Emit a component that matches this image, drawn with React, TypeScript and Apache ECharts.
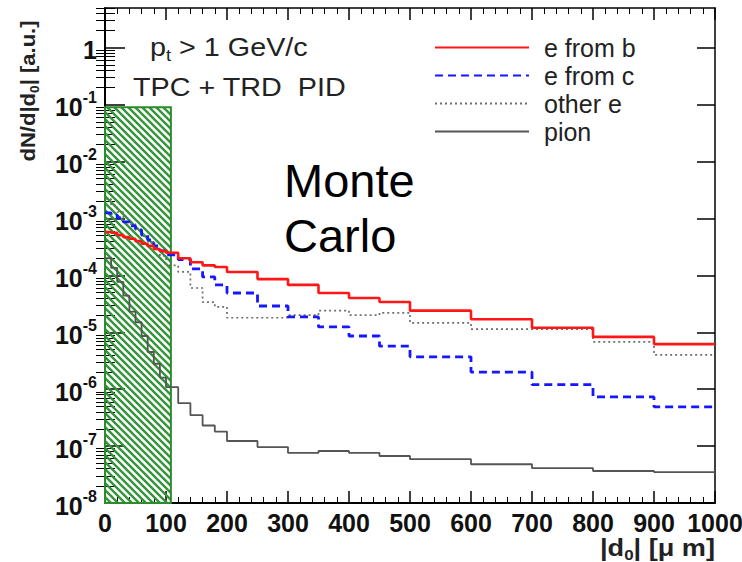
import React, { useEffect, useRef } from "react";
import * as echarts from "echarts";

// Bin edges of |d0| in micrometres
const EDGES = [0, 10, 20, 30, 40, 50, 60, 70, 80, 90, 100, 120, 140, 160, 180, 200, 250, 300, 350, 400, 450, 500, 600, 700, 800, 900, 1000];

const E_FROM_B = [5.8e-4, 5.6e-4, 5.1e-4, 4.7e-4, 4.4e-4, 4.0e-4, 3.6e-4, 3.3e-4, 2.9e-4, 2.7e-4,
  2.5e-4, 2.0e-4, 1.7e-4, 1.5e-4, 1.4e-4,
  1.15e-4, 8.6e-5, 6.8e-5, 4.9e-5, 4.0e-5, 3.4e-5,
  2.4e-5, 1.7e-5, 1.2e-5, 8.3e-6, 6.2e-6];

const E_FROM_C = [1.25e-3, 1.15e-3, 1.02e-3, 8.7e-4, 7.4e-4, 6.3e-4, 5.1e-4, 4.2e-4, 3.3e-4, 2.7e-4,
  2.3e-4, 1.9e-4, 1.3e-4, 9.4e-5, 6.8e-5,
  4.9e-5, 2.9e-5, 1.86e-5, 1.24e-5, 8.6e-6, 5.7e-6,
  3.7e-6, 2.0e-6, 1.2e-6, 7.3e-7, 4.9e-7];

const OTHER_E = [2.2e-3, 1.7e-3, 1.3e-3, 1.02e-3, 8.0e-4, 6.3e-4, 4.9e-4, 3.9e-4, 3.0e-4, 2.2e-4,
  1.5e-4, 1.15e-4, 6.0e-5, 3.4e-5, 2.8e-5,
  1.8e-5, 1.8e-5, 2.0e-5, 2.4e-5, 2.0e-5, 2.2e-5,
  1.46e-5, 1.14e-5, 1.14e-5, 6.8e-6, 4.0e-6];

const PION = [2.0e-4, 1.35e-4, 7.7e-5, 4.4e-5, 2.3e-5, 1.5e-5, 8.6e-6, 4.5e-6, 2.8e-6, 1.6e-6,
  1.09e-6, 5.7e-7, 3.5e-7, 2.3e-7, 1.8e-7,
  1.23e-7, 9.6e-8, 7.6e-8, 8.2e-8, 7.6e-8, 6.7e-8,
  5.9e-8, 4.8e-8, 4.1e-8, 3.65e-8, 3.5e-8];

const SERIES_NAMES = ["e from b", "e from c", "other e", "pion"];

// Y tick labels (decades)
const Y_DECADES = [1e-8, 1e-7, 1e-6, 1e-5, 1e-4, 1e-3, 1e-2, 1e-1, 1];

// PID region (hatched band)
const PID_X = [0, 108];
const PID_Y = [1e-8, 0.09];

const Y_MIN = 1e-8;
const Y_MAX = 5;

function stepPoints(vals: number[]) {
  const pts: number[][] = [];
  vals.forEach((v, i) => {
    pts.push([EDGES[i], v]);
    pts.push([EDGES[i + 1], v]);
  });
  return pts;
}

function minorDecadeTicks() {
  const out: number[] = [];
  for (let k = -8; k <= 0; k++) {
    for (let m = 2; m <= 9; m++) {
      const v = m * Math.pow(10, k);
      if (v <= Y_MAX) out.push(v);
    }
  }
  return out;
}

const FONT = "Liberation Sans, Arial, Helvetica, sans-serif";

export default function App() {
  const ref = useRef<HTMLDivElement>(null);
  useEffect(() => {
    if (!ref.current) return;
    const chart = echarts.init(ref.current, undefined, { renderer: "svg" });
    const hatchSvg =
      '<svg xmlns="http://www.w3.org/2000/svg" width="7" height="7"><path d="M-2,-2 L9,9 M-2,5 L2,9 M5,-2 L9,2" stroke="#34943a" stroke-width="2.4"/></svg>';
    const hatchUrl = "data:image/svg+xml;charset=utf-8," + encodeURIComponent(hatchSvg);
    const minor = minorDecadeTicks();

    const yLabelFmt = (v: number) => {
      const e = Math.round(Math.log10(v));
      if (e === 0) return "{b|1}";
      return "{b|10}{s|" + e + "}";
    };

    const yBase = {
      type: "log",
      logBase: 10,
      min: Y_MIN,
      max: Y_MAX,
      splitLine: { show: false },
    };

    const lineSeries = (name: string, vals: number[], color: string, width: number, type: any, z: number) => ({
      name,
      type: "line",
      data: stepPoints(vals),
      symbol: "none",
      showSymbol: false,
      z,
      lineStyle: { color, width, type },
      itemStyle: { color },
    });

    const option: any = {
      animation: false,
      backgroundColor: "#fff",
      grid: { left: 105, right: 27, top: 8, bottom: 59, containLabel: false, outerBoundsMode: "none" },
      xAxis: [
        {
          type: "value",
          position: "bottom",
          min: 0,
          max: 1000,
          interval: 100,
          axisLine: { show: true, onZero: false, lineStyle: { color: "#000", width: 2 } },
          axisTick: { show: true, inside: true, length: 12, lineStyle: { color: "#000", width: 1.5 } },
          minorTick: { show: true, splitNumber: 5, length: 6, lineStyle: { color: "#000", width: 1 } },
          axisLabel: {
            color: "#111",
            fontSize: 25,
            fontWeight: "bold",
            fontFamily: FONT,
            margin: 7,
            formatter: (v: number) => String(v),
          },
          splitLine: { show: false },
        },
        {
          type: "value",
          position: "top",
          min: 0,
          max: 1000,
          interval: 100,
          axisLine: { show: true, onZero: false, lineStyle: { color: "#000", width: 1.5 } },
          axisTick: { show: true, inside: true, length: 12, lineStyle: { color: "#000", width: 1.5 } },
          minorTick: { show: true, splitNumber: 5, length: 6, lineStyle: { color: "#000", width: 1 } },
          axisLabel: { show: false },
          splitLine: { show: false },
        },
      ],
      yAxis: [
        {
          ...yBase,
          position: "left",
          axisLine: { show: true, onZero: false, lineStyle: { color: "#000", width: 2 } },
          axisTick: { show: true, inside: true, length: 20, customValues: Y_DECADES, lineStyle: { color: "#000", width: 1.5 } },
          axisLabel: {
            customValues: Y_DECADES,
            formatter: yLabelFmt,
            margin: 8,
            rich: {
              b: { fontSize: 25, fontWeight: "bold", fontFamily: FONT, color: "#111", lineHeight: 30, verticalAlign: "bottom" },
              s: { fontSize: 16, fontWeight: "bold", fontFamily: FONT, color: "#111", lineHeight: 30, verticalAlign: "top" },
            },
          },
        },
        {
          ...yBase,
          position: "left",
          axisLine: { show: false },
          axisTick: { show: true, inside: true, length: 10, customValues: minor, lineStyle: { color: "#000", width: 1 } },
          axisLabel: { show: false },
        },
        {
          ...yBase,
          position: "right",
          axisLine: { show: true, onZero: false, lineStyle: { color: "#000", width: 1.5 } },
          axisTick: { show: true, inside: true, length: 18, customValues: Y_DECADES, lineStyle: { color: "#000", width: 1.5 } },
          axisLabel: { show: false },
        },
        {
          ...yBase,
          position: "right",
          axisLine: { show: false },
          axisTick: { show: true, inside: true, length: 9, customValues: minor, lineStyle: { color: "#000", width: 1 } },
          axisLabel: { show: false },
        },
      ],
      legend: {
        data: SERIES_NAMES,
        orient: "vertical",
        left: 429,
        top: 30,
        itemWidth: 94,
        itemHeight: 14,
        itemGap: 3,
        itemStyle: { opacity: 0 },
        textStyle: { fontSize: 25, color: "#222", fontFamily: FONT, lineHeight: 22, padding: [0, 0, 0, 10] },
      },
      series: [
        lineSeries(SERIES_NAMES[3], PION, "#555", 1.8, "solid", 2),
        lineSeries(SERIES_NAMES[2], OTHER_E, "#6e6e6e", 1.7, [2, 3], 2),
        lineSeries(SERIES_NAMES[1], E_FROM_C, "#1616ff", 2.8, [8, 5], 2),
        lineSeries(SERIES_NAMES[0], E_FROM_B, "#ff1616", 2.6, "solid", 2),
        {
          name: "pid-region",
          type: "line",
          data: [],
          z: 3,
          markArea: {
            silent: true,
            itemStyle: {
              color: { image: hatchUrl, repeat: "repeat", imageWidth: 7, imageHeight: 7 },
              borderColor: "#2a8c2a",
              borderWidth: 2,
              opacity: 1,
            },
            data: [[{ coord: [PID_X[0], PID_Y[0]] }, { coord: [PID_X[1], PID_Y[1]] }]],
          },
        },
      ],
      graphic: [
        {
          type: "text",
          x: 150,
          y: 48,
          scaleX: 1.15,
          style: {
            text: "{a|p}{s|t}{a| > 1 GeV/c}",
            textVerticalAlign: "middle",
            rich: {
              a: { fontSize: 25, fontFamily: FONT, fill: "#222", lineHeight: 30, verticalAlign: "middle" },
              s: { fontSize: 16, fontFamily: FONT, fill: "#222", lineHeight: 30, verticalAlign: "bottom" },
            },
          },
        },
        {
          type: "text",
          x: 133,
          y: 88,
          scaleX: 1.15,
          style: { text: "TPC + TRD  PID", fontSize: 25, fontFamily: FONT, fill: "#222", textVerticalAlign: "middle" },
        },
        {
          type: "text",
          x: 284,
          y: 153,
          style: { text: "Monte\nCarlo", fontSize: 47, lineHeight: 55, fontFamily: FONT, fill: "#000" },
        },
        {
          type: "text",
          x: 28,
          y: 91,
          rotation: Math.PI / 2,
          scaleX: 1.05,
          style: {
            text: "{b|dN/d|d}{s|0}{b|| [a.u.]}",
            textAlign: "center",
            textVerticalAlign: "middle",
            rich: {
              b: { fontSize: 21, fontWeight: "bold", fontFamily: FONT, fill: "#222", lineHeight: 26, verticalAlign: "middle" },
              s: { fontSize: 13, fontWeight: "bold", fontFamily: FONT, fill: "#222", lineHeight: 26, verticalAlign: "bottom" },
            },
          },
        },
        {
          type: "text",
          x: 715,
          y: 548,
          scaleX: 1.13,
          style: {
            text: "{b||d}{s|0}{b|| [μ m]}",
            textAlign: "right",
            textVerticalAlign: "middle",
            rich: {
              b: { fontSize: 24, fontWeight: "bold", fontFamily: FONT, fill: "#222", lineHeight: 28, verticalAlign: "middle" },
              s: { fontSize: 15, fontWeight: "bold", fontFamily: FONT, fill: "#222", lineHeight: 28, verticalAlign: "bottom" },
            },
          },
        },
      ],
    };
    chart.setOption(option);
    return () => chart.dispose();
  }, []);
  return <div ref={ref} style={{ position: "fixed", left: 0, top: 0, width: 742, height: 562, background: "#fff" }} />;
}
